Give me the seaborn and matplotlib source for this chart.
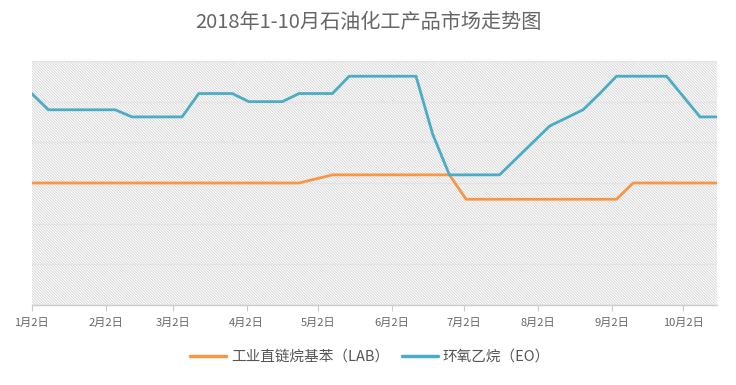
import matplotlib
matplotlib.use("Agg")
import matplotlib.pyplot as plt
import matplotlib.patches as mpatches
import seaborn as sns
import pandas as pd
import numpy as np

# ---- data ----
start_date = "2018-01-02"
n_weeks = 42
lab_name = "工业直链烷基苯（LAB）"
eo_name = "环氧乙烷（EO）"
lab_values = [6000] * 17 + [6200] + [6400] * 8 + [5200] * 10 + [6000] * 6
eo_values = [10400, 9600, 9600, 9600, 9600, 9600, 9250, 9250, 9250, 9250,
             10400, 10400, 10400, 10000, 10000, 10000, 10400, 10400, 10400,
             11250, 11250, 11250, 11250, 11250, 8400, 6400, 6400, 6400, 6400,
             7200, 8000, 8800, 9200, 9600, 10400, 11250, 11250, 11250, 11250,
             10250, 9250, 9250]
tick_months = [1, 2, 3, 4, 5, 6, 7, 8, 9, 10]
tick_labels = [f"{m}月2日" for m in tick_months]
title = "2018年1-10月石油化工产品市场走势图"

dates = pd.date_range(start_date, periods=n_weeks, freq="7D")
df = pd.concat([
    pd.DataFrame({"date": dates, "value": lab_values, "series": lab_name}),
    pd.DataFrame({"date": dates, "value": eo_values, "series": eo_name}),
])

sns.set_theme(style="white")
plt.rcParams["font.family"] = ["Noto Sans CJK SC", "DejaVu Sans"]
plt.rcParams["hatch.linewidth"] = 0.6

fig = plt.figure(figsize=(7.36, 3.85), dpi=100)
ax = fig.add_axes([0.0431, 0.2078, 0.9307, 0.6338])

# hatched background
bg = mpatches.Rectangle((0, 0), 1, 1, transform=ax.transAxes, facecolor="white",
                        edgecolor="#d2d2d2", linewidth=0, hatch="\\" * 12, zorder=0)
ax.add_patch(bg)

sns.lineplot(data=df, x="date", y="value", hue="series", ax=ax,
             palette={lab_name: "#F79646", eo_name: "#4BACC6"},
             linewidth=2.0, legend=True, zorder=3)

ax.set_ylim(0, 12000)
ax.set_yticks(np.arange(0, 12001, 2000))
ax.set_yticklabels([])
ax.tick_params(axis="y", length=0)
ax.grid(axis="y", color="#e3e3e3", linewidth=1.0, zorder=1)
ax.set_axisbelow(True)

ax.set_xlim(dates[0], dates[-1])
ticks = [pd.Timestamp(2018, m, 2) for m in tick_months]
ax.set_xticks(ticks)
ax.set_xticklabels(tick_labels, fontsize=8, color="#666666")
ax.tick_params(axis="x", length=4, width=0.8, color="#cccccc", pad=5, bottom=True)

for s in ["top", "right", "left"]:
    ax.spines[s].set_visible(False)
ax.spines["bottom"].set_color("#cccccc")
ax.spines["bottom"].set_linewidth(1.0)

ax.set_xlabel("")
ax.set_ylabel("")

leg = ax.legend(loc="center", ncol=2, frameon=False, fontsize=10.5, handlelength=2.5,
                columnspacing=0.9, handletextpad=0.3)
leg.set_bbox_to_anchor((370 / 736, 1 - 357 / 385), transform=fig.transFigure)
for t in leg.get_texts():
    t.set_color("#555555")
for l in leg.get_lines():
    l.set_linewidth(2.5)

fig.text(368 / 736, 1 - 22 / 385, title, ha="center", va="center",
         fontsize=14.5, color="#666666")

fig.savefig("out.png", dpi=100)
